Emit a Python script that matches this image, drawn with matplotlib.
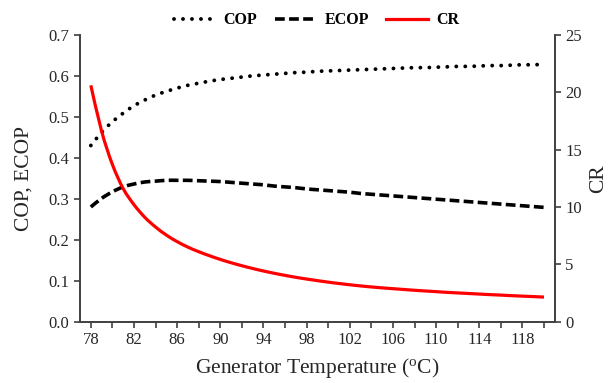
import matplotlib
matplotlib.use("Agg")
from matplotlib import pyplot as plt
from matplotlib.lines import Line2D
from matplotlib.path import Path
from matplotlib.patches import PathPatch

# generator temperature, degC
temperature = list(range(78, 121))

cop = [0.430, 0.462, 0.488, 0.509, 0.527, 0.541, 0.553, 0.562, 0.570, 0.577,
       0.582, 0.587, 0.591, 0.594, 0.597, 0.600, 0.602, 0.604, 0.606, 0.608,
       0.609, 0.611, 0.612, 0.613, 0.614, 0.615, 0.616, 0.617, 0.618, 0.619,
       0.620, 0.620, 0.621, 0.622, 0.623, 0.623, 0.624, 0.625, 0.625, 0.626,
       0.627, 0.627, 0.628]

ecop = [0.280, 0.301, 0.317, 0.329, 0.336, 0.341, 0.343, 0.345, 0.345, 0.345,
        0.344, 0.343, 0.342, 0.340, 0.338, 0.336, 0.334, 0.331, 0.329, 0.327,
        0.324, 0.322, 0.320, 0.318, 0.316, 0.313, 0.311, 0.309, 0.307, 0.305,
        0.303, 0.301, 0.299, 0.297, 0.295, 0.293, 0.291, 0.289, 0.287, 0.285,
        0.283, 0.281, 0.279]

cr = [20.6, 16.6, 13.7, 11.6, 10.2, 9.1, 8.25, 7.55, 6.98, 6.5,
      6.1, 5.75, 5.43, 5.14, 4.88, 4.64, 4.42, 4.22, 4.04, 3.87,
      3.72, 3.58, 3.45, 3.33, 3.22, 3.12, 3.03, 2.95, 2.88, 2.81,
      2.74, 2.68, 2.62, 2.56, 2.51, 2.46, 2.41, 2.36, 2.32, 2.27,
      2.23, 2.19, 2.15]

x_labels = list(range(78, 121, 4))
x_minor = list(range(80, 121, 4))


def smooth_line(ax, x, y, **kw):
    """Excel-style smoothed line: Catmull-Rom segments as cubic Beziers."""
    n = len(x)
    verts = [(x[0], y[0])]
    codes = [Path.MOVETO]
    for i in range(n - 1):
        a = max(i - 1, 0)
        b = min(i + 2, n - 1)
        c1 = (x[i] + (x[i + 1] - x[a]) / 6, y[i] + (y[i + 1] - y[a]) / 6)
        c2 = (x[i + 1] - (x[b] - x[i]) / 6, y[i + 1] - (y[b] - y[i]) / 6)
        verts += [c1, c2, (x[i + 1], y[i + 1])]
        codes += [Path.CURVE4] * 3
    patch = PathPatch(Path(verts, codes), fill=False, **kw)
    ax.add_patch(patch)
    return patch


plt.rcParams["font.family"] = ["Liberation Serif", "DejaVu Serif"]
axis_color = "#404040"
text_color = "#262626"

cop_style = dict(color="black", lw=2.8, linestyle=(0, (0.01, 2.3)))
ecop_style = dict(color="black", lw=2.6, linestyle=(0, (2.7, 1.2)))
cr_style = dict(color="#ff0000", lw=2.3)

fig = plt.figure(figsize=(6.11, 3.83), dpi=100)
ax = fig.add_axes([0.131, 0.160, 0.777, 0.749])
ax2 = ax.twinx()

smooth_line(ax, temperature, cop, capstyle="round", **cop_style)
smooth_line(ax, temperature, ecop, capstyle="butt", **ecop_style)
smooth_line(ax2, temperature, cr, capstyle="butt", **cr_style)

ax.set_xlim(77, 121)
ax.set_ylim(0, 0.7)
ax2.set_ylim(0, 25)

ax.set_xticks(x_labels)
ax.set_xticks(x_minor, minor=True)
ax.set_yticks([i / 10 for i in range(8)])
ax.yaxis.set_major_formatter(matplotlib.ticker.FormatStrFormatter("%.1f"))
ax2.set_yticks(range(0, 26, 5))

for a in (ax, ax2):
    a.spines["top"].set_visible(False)
    for side in ("left", "right", "bottom"):
        a.spines[side].set_color(axis_color)
        a.spines[side].set_linewidth(1.2)
    a.tick_params(which="both", direction="out", length=4, width=1.2,
                  color=axis_color, labelsize=12, labelcolor=text_color)

ax.set_xlabel("Generator Temperature ($\\mathregular{^o}$C)", fontsize=15.5,
              color=text_color, labelpad=6)
ax.set_ylabel("COP, ECOP", fontsize=15.5, color=text_color, labelpad=11)
ax2.set_ylabel("CR", fontsize=15.5, color=text_color, labelpad=5)

handles = [
    Line2D([], [], dash_capstyle="round", **cop_style),
    Line2D([], [], **ecop_style),
    Line2D([], [], **cr_style),
]
fig.legend(handles, ["COP", "ECOP", "CR"], loc="upper center",
           bbox_to_anchor=(0.518, 1.005), ncol=3, frameon=False,
           handlelength=2.6, handletextpad=0.5, columnspacing=1.1,
           prop={"size": 11.5, "weight": "bold"})

fig.savefig("out.png", dpi=100)
